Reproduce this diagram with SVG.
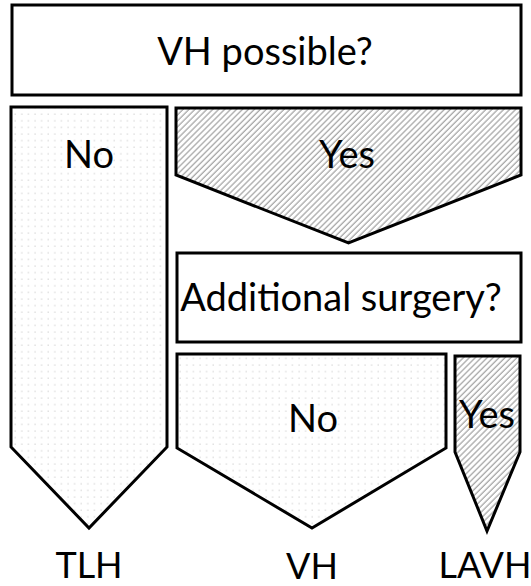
<svg xmlns="http://www.w3.org/2000/svg" width="531" height="586" viewBox="0 0 531 586">
  <defs>
    <pattern id="dots" width="6.6" height="6.6" patternUnits="userSpaceOnUse">
      <rect width="6.6" height="6.6" fill="#ffffff"/>
      <circle cx="2" cy="2" r="0.7" fill="#c4c4c4"/>
    </pattern>
    <pattern id="hatch" width="4.2" height="4.2" patternUnits="userSpaceOnUse" patternTransform="rotate(45)">
      <rect width="4.2" height="4.2" fill="#ffffff"/>
      <line x1="1" y1="0" x2="1" y2="4.2" stroke="#a8a8a8" stroke-width="1.3"/>
    </pattern>
  </defs>
  <style>
    .box { fill: #ffffff; stroke: #000000; stroke-width: 3; }
    .dot { fill: url(#dots); stroke: #000000; stroke-width: 3; stroke-linejoin: miter; }
    .hat { fill: url(#hatch); stroke: #000000; stroke-width: 3; stroke-linejoin: miter; }
    text { font-family: Lato, "Open Sans", "Liberation Sans", sans-serif; font-size: 38px; fill: #000000; text-anchor: middle; }
    .lbl { font-size: 36px; }
  </style>
  <g id="q1">
    <rect class="box" x="12" y="5" width="509" height="90"/>
    <text x="265" y="65">VH possible?</text>
  </g>
  <g id="no1">
    <polygon class="dot" points="11,107 167,107 167,447 89,528 11,447"/>
    <text x="89" y="168">No</text>
  </g>
  <g id="yes1">
    <polygon class="hat" points="176,108 521,108 521,175 348.5,243 176,175"/>
    <text x="347" y="168">Yes</text>
  </g>
  <g id="q2">
    <rect class="box" x="177" y="253" width="344" height="89"/>
    <text x="341" y="311">Additional surgery?</text>
  </g>
  <g id="no2">
    <polygon class="dot" points="177,354 446,354 446,448 312,528 177,448"/>
    <text x="313" y="432">No</text>
  </g>
  <g id="yes2">
    <polygon class="hat" points="455,356 520,356 520,452 487,531 455,452"/>
    <text x="487" y="428">Yes</text>
  </g>
  <g id="tlh">
    <text class="lbl" x="89" y="578">TLH</text>
  </g>
  <g id="vh">
    <text class="lbl" x="312" y="579">VH</text>
  </g>
  <g id="lavh">
    <text class="lbl" x="485" y="578">LAVH</text>
  </g>
  <g id="connectors"></g>
</svg>
